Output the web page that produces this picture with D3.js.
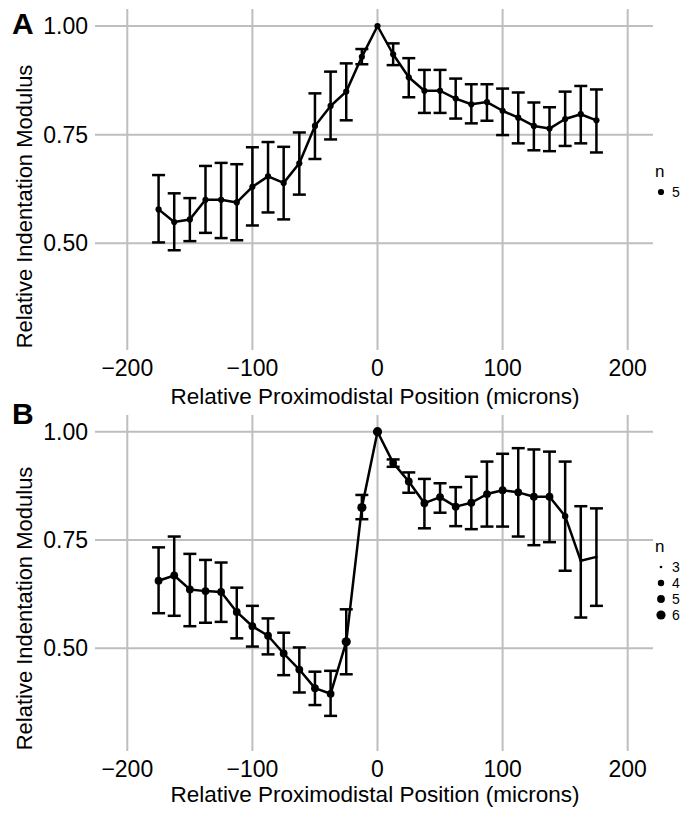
<!DOCTYPE html>
<html>
<head>
<meta charset="utf-8">
<script src="https://cdn.jsdelivr.net/npm/d3@7"></script>
<style>
  body { margin: 0; background: #fff; }
  text { font-family: "Liberation Sans", Arial, Helvetica, sans-serif; fill: #000; }
</style>
</head>
<body>
<div id="chart"></div>
<script>
// positions along the proximodistal axis (microns)
var positions = [-175, -162.5, -150, -137.5, -125, -112.5, -100, -87.5, -75, -62.5, -50, -37.5, -25, -12.5, 0,
                 12.5, 25, 37.5, 50, 62.5, 75, 87.5, 100, 112.5, 125, 137.5, 150, 162.5, 175];

// panel A
var meanA = [0.578, 0.549, 0.555, 0.600, 0.600, 0.594, 0.630, 0.654, 0.639, 0.684, 0.770, 0.816, 0.849, 0.929, 1.000,
             0.935, 0.882, 0.851, 0.851, 0.833, 0.820, 0.825, 0.805, 0.789, 0.770, 0.764, 0.786, 0.797, 0.783];
var lowA  = [0.502, 0.484, 0.505, 0.524, 0.512, 0.507, 0.541, 0.571, 0.555, 0.612, 0.694, 0.739, 0.783, 0.912, 1.000,
             0.910, 0.836, 0.800, 0.800, 0.787, 0.776, 0.782, 0.749, 0.730, 0.714, 0.712, 0.724, 0.730, 0.709];
var highA = [0.657, 0.615, 0.604, 0.678, 0.685, 0.682, 0.721, 0.733, 0.722, 0.755, 0.845, 0.895, 0.914, 0.947, 1.000,
             0.960, 0.926, 0.899, 0.899, 0.879, 0.866, 0.866, 0.856, 0.847, 0.824, 0.813, 0.849, 0.862, 0.854];
var nA = positions.map(function () { return 5; });

// panel B
var meanB = [0.656, 0.668, 0.636, 0.632, 0.630, 0.584, 0.551, 0.529, 0.488, 0.451, 0.408, 0.395, 0.515, 0.825, 1.000,
             0.928, 0.885, 0.835, 0.849, 0.827, 0.836, 0.856, 0.865, 0.860, 0.850, 0.850, 0.805, 0.702, 0.711];
var lowB  = [0.581, 0.575, 0.551, 0.559, 0.561, 0.523, 0.504, 0.486, 0.438, 0.398, 0.369, 0.344, 0.440, 0.798, 1.000,
             0.919, 0.859, 0.777, 0.813, 0.782, 0.775, 0.781, 0.781, 0.758, 0.738, 0.745, 0.679, 0.571, 0.598];
var highB = [0.733, 0.758, 0.718, 0.704, 0.698, 0.640, 0.598, 0.569, 0.536, 0.502, 0.446, 0.448, 0.590, 0.854, 1.000,
             0.936, 0.906, 0.891, 0.881, 0.872, 0.896, 0.931, 0.949, 0.962, 0.959, 0.954, 0.931, 0.828, 0.823];
var nB = [5, 5, 5, 5, 5, 5, 5, 5, 5, 5, 5, 5, 6, 6, 6,
          5, 5, 5, 5, 5, 5, 5, 5, 5, 5, 5, 4, 3, 3];

var xTicks = [-200, -100, 0, 100, 200];
var yTicks = [0.50, 0.75, 1.00];

var svg = d3.select("#chart").append("svg")
    .attr("width", 694)
    .attr("height", 819);

function panel(cfg) {
    var g = svg.append("g");
    var x = d3.scaleLinear().domain([-200, 200]).range([127.3, 627.7]);
    var y = d3.scaleLinear().domain([0.5, 1.0]).range([cfg.y50, cfg.y100]);
    var left = 95, right = 653;

    // grid
    g.selectAll(".gx").data(xTicks).enter().append("line")
        .attr("x1", function (d) { return x(d); }).attr("x2", function (d) { return x(d); })
        .attr("y1", cfg.top).attr("y2", cfg.bottom)
        .attr("stroke", "#bebebe").attr("stroke-width", 2);
    g.selectAll(".gy").data(yTicks).enter().append("line")
        .attr("x1", left).attr("x2", right)
        .attr("y1", function (d) { return y(d); }).attr("y2", function (d) { return y(d); })
        .attr("stroke", "#bebebe").attr("stroke-width", 2);

    // tick labels
    g.selectAll(".tx").data(xTicks).enter().append("text")
        .attr("x", function (d) { return x(d); })
        .attr("y", cfg.bottom + 26)
        .attr("text-anchor", "middle")
        .style("font-size", "23px")
        .text(function (d) { return d3.format("")(d).replace("-", "\u2212"); });
    g.selectAll(".ty").data(yTicks).enter().append("text")
        .attr("x", 88)
        .attr("y", function (d) { return y(d) + 8; })
        .attr("text-anchor", "end")
        .style("font-size", "23px")
        .text(function (d) { return d3.format(".2f")(d); });

    // axis titles
    g.append("text")
        .attr("x", (left + right) / 2 + 1)
        .attr("y", cfg.titleY)
        .attr("text-anchor", "middle")
        .style("font-size", "22.5px")
        .text("Relative Proximodistal Position (microns)");
    g.append("text")
        .attr("transform", "translate(32," + ((cfg.top + cfg.titleY) / 2) + ") rotate(-90)")
        .attr("text-anchor", "middle")
        .style("font-size", "22px")
        .text("Relative Indentation Modulus");

    // panel tag
    g.append("text")
        .attr("x", 12).attr("y", cfg.tagY)
        .style("font-size", "30px").style("font-weight", "bold")
        .text(cfg.tag);

    var data = positions.map(function (p, i) {
        return { x: p, m: cfg.mean[i], lo: cfg.low[i], hi: cfg.high[i], n: cfg.n[i] };
    });

    // line
    g.append("path")
        .datum(data)
        .attr("fill", "none")
        .attr("stroke", "#000")
        .attr("stroke-width", 2.5)
        .attr("stroke-linejoin", "round")
        .attr("d", d3.line().x(function (d) { return x(d.x); }).y(function (d) { return y(d.m); }));

    // error bars
    var eb = g.selectAll(".eb").data(data.filter(function (d) { return d.hi > d.lo; })).enter().append("g");
    eb.append("line")
        .attr("x1", function (d) { return x(d.x); }).attr("x2", function (d) { return x(d.x); })
        .attr("y1", function (d) { return y(d.lo); }).attr("y2", function (d) { return y(d.hi); })
        .attr("stroke", "#000").attr("stroke-width", 2.5);
    eb.append("line")
        .attr("x1", function (d) { return x(d.x) - 6.5; }).attr("x2", function (d) { return x(d.x) + 6.5; })
        .attr("y1", function (d) { return y(d.lo); }).attr("y2", function (d) { return y(d.lo); })
        .attr("stroke", "#000").attr("stroke-width", 2.5);
    eb.append("line")
        .attr("x1", function (d) { return x(d.x) - 6.5; }).attr("x2", function (d) { return x(d.x) + 6.5; })
        .attr("y1", function (d) { return y(d.hi); }).attr("y2", function (d) { return y(d.hi); })
        .attr("stroke", "#000").attr("stroke-width", 2.5);

    // points
    g.selectAll(".pt").data(data).enter().append("circle")
        .attr("cx", function (d) { return x(d.x); })
        .attr("cy", function (d) { return y(d.m); })
        .attr("r", function (d) { return cfg.size(d.n); })
        .attr("fill", "#000");

    // legend
    var lg = g.append("g");
    lg.append("text")
        .attr("x", 655).attr("y", cfg.legTop)
        .style("font-size", "17px")
        .text("n");
    var keys = lg.selectAll(".key").data(cfg.legKeys).enter().append("g")
        .attr("transform", function (d, i) { return "translate(0," + (cfg.legTop + 15 + i * 16) + ")"; });
    keys.append("circle")
        .attr("cx", 661).attr("cy", 0)
        .attr("r", function (d) { return cfg.size(d); })
        .attr("fill", "#000");
    keys.append("text")
        .attr("x", 672).attr("y", 5)
        .style("font-size", "14px")
        .text(function (d) { return d; });
}

panel({
    tag: "A", tagY: 34, top: 9, bottom: 350, y100: 26, y50: 243.3, titleY: 404,
    mean: meanA, low: lowA, high: highA, n: nA,
    size: d3.scaleOrdinal().domain([5]).range([3.1]),
    legKeys: [5], legTop: 177
});

panel({
    tag: "B", tagY: 424, top: 415, bottom: 751, y100: 431.7, y50: 648.3, titleY: 802,
    mean: meanB, low: lowB, high: highB, n: nB,
    size: d3.scaleLinear().domain([3, 4, 5, 6]).range([1.3, 3.2, 3.9, 4.6]),
    legKeys: [3, 4, 5, 6], legTop: 552
});
</script>
</body>
</html>
